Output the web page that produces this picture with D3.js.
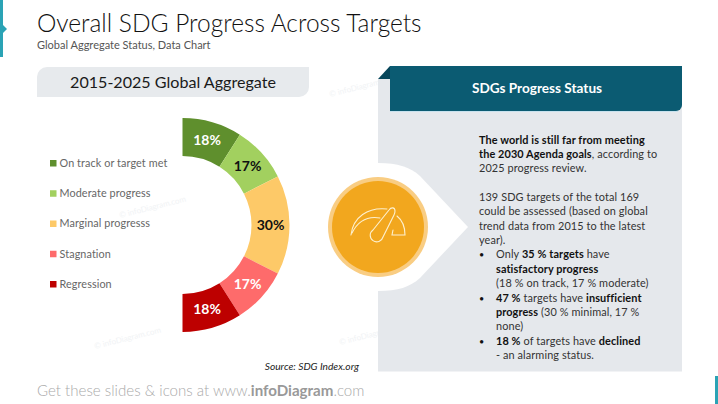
<!DOCTYPE html>
<html>
<head>
<meta charset="utf-8">
<script src="https://cdn.jsdelivr.net/npm/d3@7"></script>
<style>
html, body { margin: 0; padding: 0; background: #fff; }
svg { display: block; }
text { font-family: Lato, "Open Sans", sans-serif; }
</style>
</head>
<body>
<div id="chart"></div>
<script>
const categories = ["On track or target met", "Moderate progress", "Marginal progresss", "Stagnation", "Regression"];
const values = [18, 17, 30, 17, 18];
const sliceColors = ["#5f8f2d", "#a2d05f", "#fdc968", "#fe6b6b", "#bd0000"];
const labelColors = ["#fff", "#111", "#111", "#fff", "#fff"];

// each line is a list of [text, bold] runs
const introLines = [
    [["The world is still far from meeting", true]],
    [["the 2030 Agenda goals", true], [", according to", false]],
    [["2025 progress review.", false]]
];
const assessLines = [
    [["139 SDG targets of the total 169", false]],
    [["could be assessed (based on global", false]],
    [["trend data from 2015 to the latest", false]],
    [["year).", false]]
];
const bulletLines = [
    { bullet: true, runs: [["Only ", false], ["35 % targets", true], [" have", false]] },
    { bullet: false, runs: [["satisfactory progress", true]] },
    { bullet: false, runs: [["(18 % on track, 17 % moderate)", false]] },
    { bullet: true, runs: [["47 %", true], [" targets have ", false], ["insufficient", true]] },
    { bullet: false, runs: [["progress", true], [" (30 % minimal, 17 %", false]] },
    { bullet: false, runs: [["none)", false]] },
    { bullet: true, runs: [["18 %", true], [" of targets have ", false], ["declined", true]] },
    { bullet: false, runs: [["- an alarming status.", false]] }
];
const watermarks = [[330, 97, -14], [95, 349, -14], [340, 345, -14], [120, 218, -14]];

const width = 718, height = 404;
const svg = d3.select("#chart").append("svg")
    .attr("width", width)
    .attr("height", height);

svg.selectAll(".wm")
    .data(watermarks)
    .enter().append("text")
    .attr("class", "wm")
    .attr("transform", d => `translate(${d[0]},${d[1]}) rotate(${d[2]})`)
    .attr("fill", "#f1f3f5")
    .style("font-size", "8px")
    .text("© infoDiagram.com");

// top left and bottom right brand marks
svg.append("path").attr("d", "M0,0H3V25L7,29L3,33V57H0Z").attr("fill", "#2aa3b5");
svg.append("rect").attr("x", 715).attr("y", 376).attr("width", 3).attr("height", 28).attr("fill", "#2aa3b5");

svg.append("text").attr("x", 37).attr("y", 32)
    .attr("fill", "#111").style("font-size", "24.5px").style("font-weight", 300)
    .text("Overall SDG Progress Across Targets");
svg.append("text").attr("x", 37).attr("y", 49)
    .attr("fill", "#555").style("font-size", "11px")
    .text("Global Aggregate Status, Data Chart");

// left heading, rounded on two corners only
svg.append("path")
    .attr("d", "M47,67H309V87A10,10 0 0 1 299,97H37V77A10,10 0 0 1 47,67Z")
    .attr("fill", "#e7eaed");
svg.append("text").attr("x", 173).attr("y", 88).attr("text-anchor", "middle")
    .attr("fill", "#1a1a1a").style("font-size", "16.1px")
    .text("2015-2025 Global Aggregate");

// half donut, clockwise from 12 o'clock
const donut = svg.append("g").attr("transform", "translate(182.5,225)");
const color = d3.scaleOrdinal().domain(categories).range(sliceColors);
const pie = d3.pie().value(d => d.val).sort(null).startAngle(0).endAngle(Math.PI);
const arc = d3.arc().innerRadius(69).outerRadius(107);
const pieData = pie(categories.map((c, i) => ({ cat: c, val: values[i], label: labelColors[i] })));

donut.selectAll(".slice")
    .data(pieData)
    .enter().append("path")
    .attr("class", "slice")
    .attr("d", arc)
    .attr("fill", d => color(d.data.cat));

donut.selectAll(".slice-label")
    .data(pieData)
    .enter().append("text")
    .attr("class", "slice-label")
    .attr("transform", d => `translate(${arc.centroid(d)})`)
    .attr("dy", "0.35em")
    .attr("text-anchor", "middle")
    .attr("fill", d => d.data.label)
    .style("font-size", "14px")
    .style("font-weight", 700)
    .text(d => `${d.data.val}%`);

// legend
const legendY = d3.scalePoint().domain(categories).range([163, 284]);
const legend = svg.selectAll(".legend-item")
    .data(categories)
    .enter().append("g")
    .attr("class", "legend-item")
    .attr("transform", d => `translate(50,${legendY(d)})`);
legend.append("rect")
    .attr("y", -3).attr("width", 6.5).attr("height", 6.5)
    .attr("fill", d => color(d));
legend.append("text")
    .attr("x", 9.5).attr("dy", "0.35em")
    .attr("fill", "#666")
    .style("font-size", "10.8px")
    .style("letter-spacing", "0.1px")
    .text(d => d);

svg.append("text").attr("x", 359).attr("y", 370).attr("text-anchor", "end")
    .attr("fill", "#222").style("font-size", "10.2px").style("font-style", "italic")
    .text("Source: SDG Index.org");

// right panel
svg.append("rect").attr("x", 378).attr("y", 79).attr("width", 304).attr("height", 292.5).attr("fill", "#e5e8ec");
svg.append("path").attr("d", "M378,79L390,66V79Z").attr("fill", "#07465a");
svg.append("path")
    .attr("d", "M390,66H682V105A6,6 0 0 1 676,111H390Z")
    .attr("fill", "#0b5b72");
svg.append("line").attr("x1", 390).attr("x2", 678).attr("y1", 111.5).attr("y2", 111.5)
    .attr("stroke", "#c8e2ee").attr("stroke-width", 1);
svg.append("text").attr("x", 537).attr("y", 93).attr("text-anchor", "middle")
    .attr("fill", "#fff").style("font-size", "13.6px").style("font-weight", 700)
    .text("SDGs Progress Status");

// white arrow behind the badge
svg.append("path")
    .attr("d", "M378,163C398,163 410,167 420,176L468,227L420,278C410,287 398,291 378,291Z")
    .attr("fill", "#fff");

const badge = svg.append("g").attr("transform", "translate(378,227)");
badge.append("circle").attr("r", 50).attr("fill", "#f9cd83");
badge.append("circle").attr("r", 46).attr("fill", "#f2a71e");
const gauge = badge.append("g").attr("fill", "none").attr("stroke", "#fdf0cf").attr("stroke-width", 1.1)
    .attr("stroke-linecap", "round");
gauge.append("path").attr("d", "M-27,8C-25,-10 -10,-20 9,-18");
gauge.append("path").attr("d", "M-26,6C-20,-6 -10,-11 2,-9");
gauge.append("path").attr("d", "M-5,3L11,-17C13,-20 17,-20 17,-16C17,-15 17,-14 16,-12L5,10A6.5,6.5 0 1 1 -5,3Z");
gauge.append("path").attr("d", "M19,-11C24,-7 27,-1 27,8H14L15,3");

// panel text
const lineStep = 14.37;
const textX = 479, bulletTextX = 496;
function addRuns(sel, runs) {
    runs.forEach(([t, bold]) => {
        sel.append("tspan")
            .attr("fill", bold ? "#111" : "#333")
            .style("font-weight", bold ? 700 : 400)
            .text(t);
    });
}
const panelText = svg.append("g").style("font-size", "10.9px").style("letter-spacing", "0.1px");
introLines.forEach((runs, i) => {
    addRuns(panelText.append("text").attr("x", textX).attr("y", 143.5 + i * lineStep), runs);
});
assessLines.forEach((runs, i) => {
    addRuns(panelText.append("text").attr("x", textX).attr("y", 201 + i * lineStep), runs);
});
bulletLines.forEach((d, i) => {
    const y = 201 + (assessLines.length + i) * lineStep;
    if (d.bullet) panelText.append("text").attr("x", textX).attr("y", y).attr("fill", "#111").style("font-size", "9px").text("•");
    addRuns(panelText.append("text").attr("x", bulletTextX).attr("y", y), d.runs);
});

// footer
const footer = svg.append("text").attr("x", 37).attr("y", 396)
    .attr("fill", "#aaa").style("font-size", "15.1px").style("font-weight", 300);
footer.append("tspan").text("Get these slides & icons at www.");
footer.append("tspan").style("font-weight", 700).attr("fill", "#999").text("infoDiagram");
footer.append("tspan").text(".com");
</script>
</body>
</html>
